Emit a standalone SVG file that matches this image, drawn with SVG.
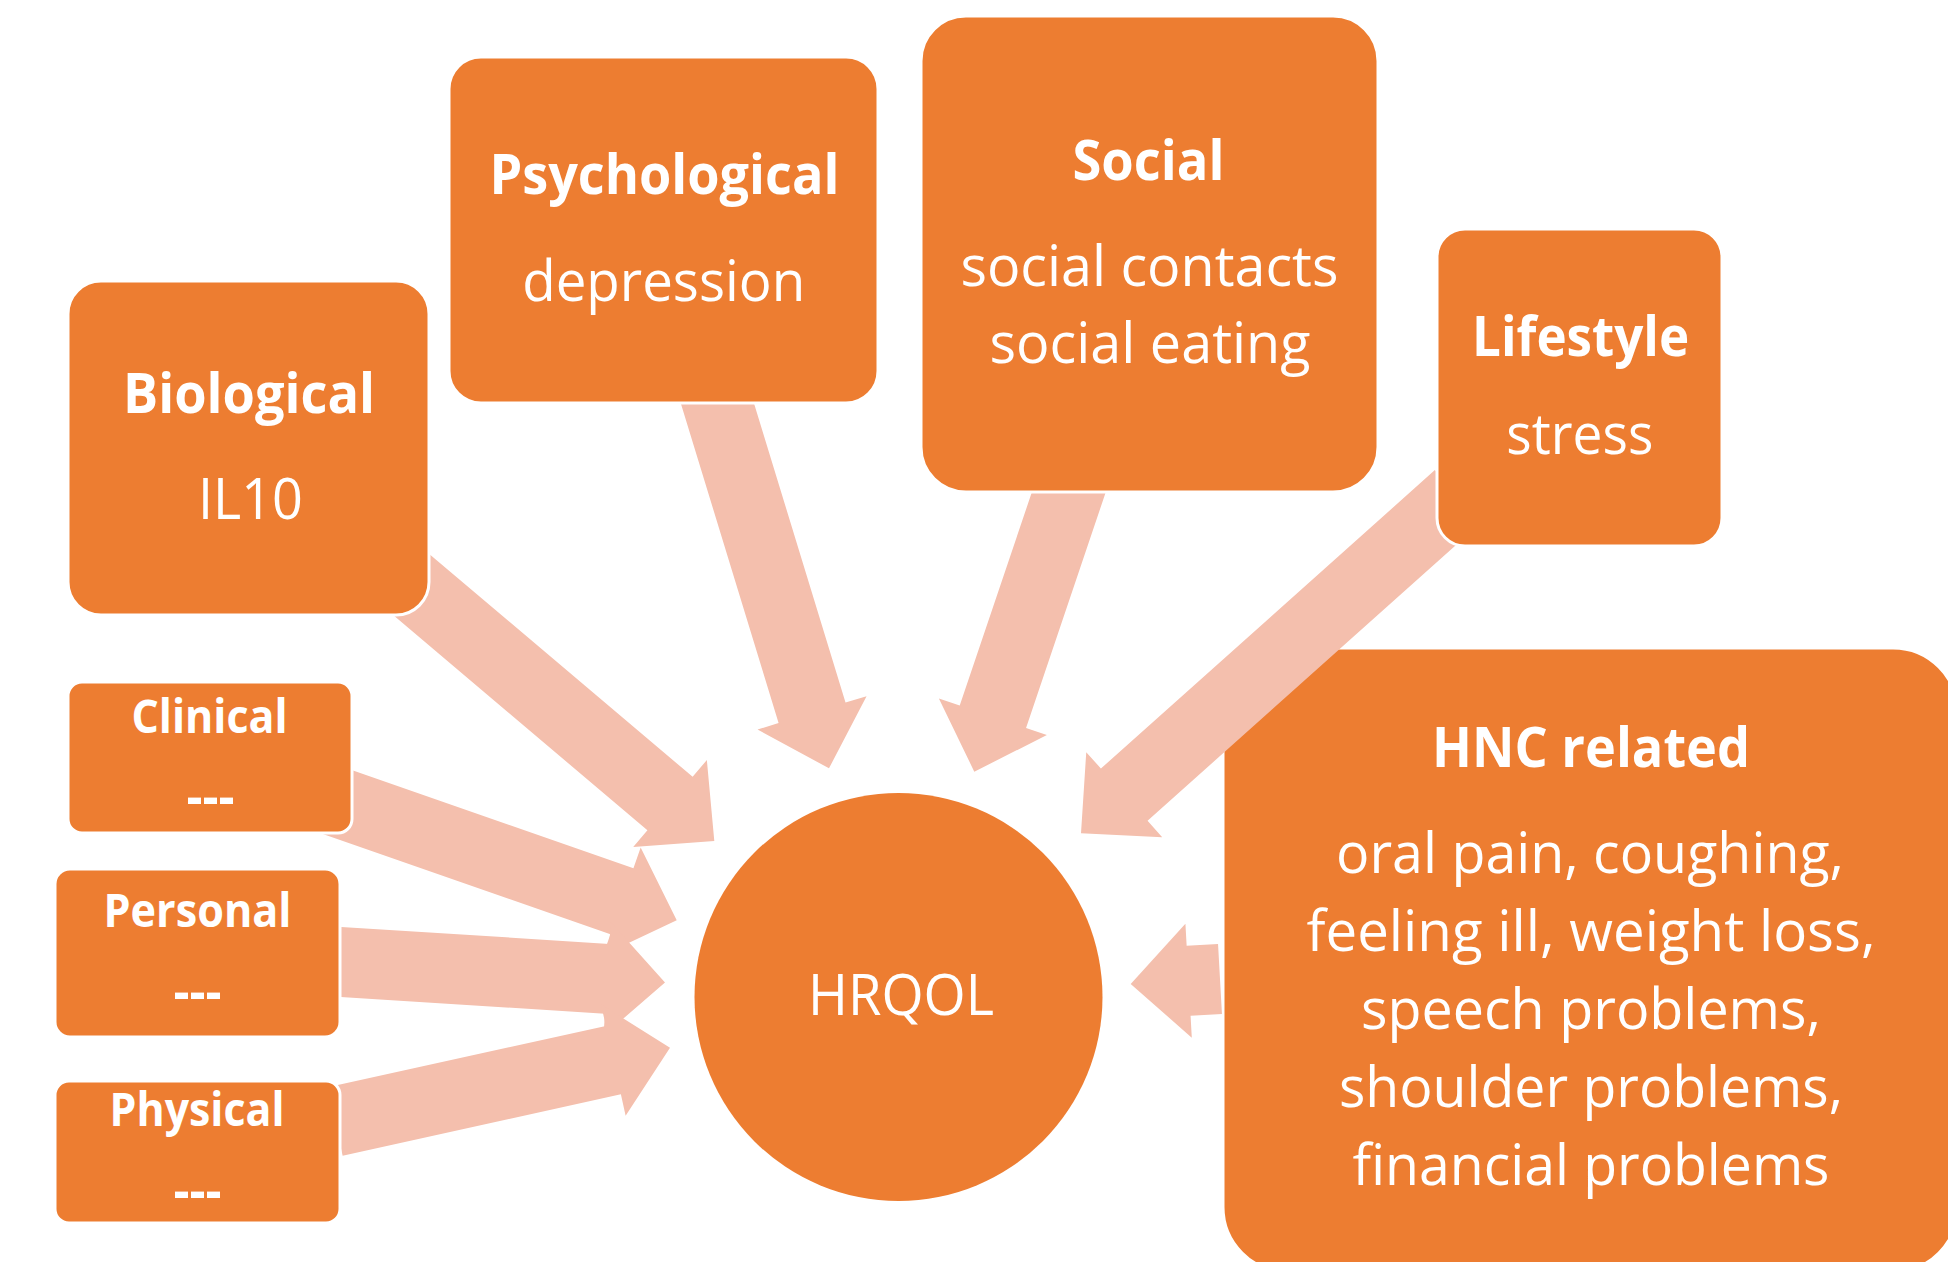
<svg xmlns="http://www.w3.org/2000/svg" width="1948" height="1262" viewBox="0 0 1948 1262">
<style>
.box{fill:#ED7D31;stroke:#FFFFFF;stroke-width:3}
.arrow{fill:#F4BFAD}
.t{fill:#FFFFFF;font-family:"Open Sans","Noto Sans",sans-serif;text-anchor:middle;font-size:56px}
.b{font-weight:bold}
.s{font-size:46px}
.d{font-size:52px;font-weight:bold}
</style>
<rect width="1948" height="1262" fill="#FFFFFF"/>
<g id="node-hnc">
<rect class="box" x="1223" y="648" width="735" height="624" rx="65" ry="65"/>
<text class="t b" x="1591" y="767" textLength="318" lengthAdjust="spacingAndGlyphs">HNC related</text>
<text class="t" x="1590" y="873" textLength="508" lengthAdjust="spacingAndGlyphs">oral pain, coughing,</text>
<text class="t" x="1591" y="951" textLength="569" lengthAdjust="spacingAndGlyphs">feeling ill, weight loss,</text>
<text class="t" x="1591" y="1029" textLength="460" lengthAdjust="spacingAndGlyphs">speech problems,</text>
<text class="t" x="1591" y="1107" textLength="504" lengthAdjust="spacingAndGlyphs">shoulder problems,</text>
<text class="t" x="1591" y="1185" textLength="477" lengthAdjust="spacingAndGlyphs">financial problems</text>
</g>
<g id="connectors">
<polygon class="arrow" points="372.19,597.32 647.42,830.25 633.21,847.04 714.3,841 706.85,760.02 692.64,776.81 417.41,543.88"/>
<polygon class="arrow" points="312.08,830.35 610.40,934.27 603.17,955.05 676.7,920.3 640.67,847.39 633.44,868.17 335.12,764.25"/>
<polygon class="arrow" points="332.79,996.53 604.91,1013.76 603.52,1035.72 665,982.5 610.72,921.94 609.33,943.90 337.21,926.67"/>
<polygon class="arrow" points="342.63,1155.68 620.88,1094.36 625.62,1115.85 670,1047.7 601.08,1004.51 605.82,1026.0 327.57,1087.32"/>
<polygon class="arrow" points="678.63,396.13 778.58,723.06 757.54,729.49 829,768.3 866.56,696.17 845.52,702.60 745.57,375.67"/>
<polygon class="arrow" points="1040.84,465.59 959.72,705.55 938.88,698.50 974.3,771.7 1046.88,735.02 1026.04,727.97 1107.16,488.01"/>
<polygon class="arrow" points="1434.88,470.10 1100.92,768.55 1086.26,752.15 1081,833.3 1162.22,837.15 1147.56,820.75 1481.52,522.30"/>
<polygon class="arrow" points="1218.04,944.06 1186.65,945.82 1185.42,923.85 1130.7,984 1191.80,1037.67 1190.57,1015.70 1221.96,1013.94"/>
</g>
<g id="node-biological">
<rect class="box" x="68" y="281" width="361" height="334" rx="33" ry="33"/>
<text class="t b" x="249" y="413" textLength="252" lengthAdjust="spacingAndGlyphs">Biological</text>
<text class="t" x="250.5" y="519" textLength="105" lengthAdjust="spacingAndGlyphs">IL10</text>
</g>
<g id="node-psychological">
<rect class="box" x="449" y="57" width="429" height="346" rx="32" ry="32"/>
<text class="t b" x="664.4" y="194" textLength="350" lengthAdjust="spacingAndGlyphs">Psychological</text>
<text class="t" x="663.7" y="301" textLength="283" lengthAdjust="spacingAndGlyphs">depression</text>
</g>
<g id="node-social">
<rect class="box" x="921" y="16" width="457" height="476" rx="45" ry="45"/>
<text class="t b" x="1148.4" y="180" textLength="152" lengthAdjust="spacingAndGlyphs">Social</text>
<text class="t" x="1149.4" y="286" textLength="378" lengthAdjust="spacingAndGlyphs">social contacts</text>
<text class="t" x="1150" y="363" textLength="321" lengthAdjust="spacingAndGlyphs">social eating</text>
</g>
<g id="node-lifestyle">
<rect class="box" x="1437" y="229" width="285" height="317" rx="28" ry="28"/>
<text class="t b" x="1580.6" y="356" textLength="217" lengthAdjust="spacingAndGlyphs">Lifestyle</text>
<text class="t" x="1579.8" y="454" textLength="147" lengthAdjust="spacingAndGlyphs">stress</text>
</g>
<g id="node-clinical">
<rect class="box" x="68" y="682" width="284" height="151" rx="14" ry="14"/>
<text class="t b s" x="209.5" y="733" textLength="156" lengthAdjust="spacingAndGlyphs">Clinical</text>
<text class="t d" x="210.5" y="815" textLength="48" lengthAdjust="spacingAndGlyphs">---</text>
</g>
<g id="node-personal">
<rect class="box" x="55" y="869" width="285" height="168" rx="15" ry="15"/>
<text class="t b s" x="197.5" y="927" textLength="188" lengthAdjust="spacingAndGlyphs">Personal</text>
<text class="t d" x="197.5" y="1010" textLength="48" lengthAdjust="spacingAndGlyphs">---</text>
</g>
<g id="node-physical">
<rect class="box" x="55" y="1081" width="285" height="142" rx="14" ry="14"/>
<text class="t b s" x="197" y="1126" textLength="175" lengthAdjust="spacingAndGlyphs">Physical</text>
<text class="t d" x="197.5" y="1209" textLength="48" lengthAdjust="spacingAndGlyphs">---</text>
</g>
<g id="node-hrqol">
<circle cx="898.5" cy="997" r="204" fill="#ED7D31"/>
<text class="t" x="901" y="1015" textLength="186" lengthAdjust="spacingAndGlyphs">HRQOL</text>
</g>
</svg>
